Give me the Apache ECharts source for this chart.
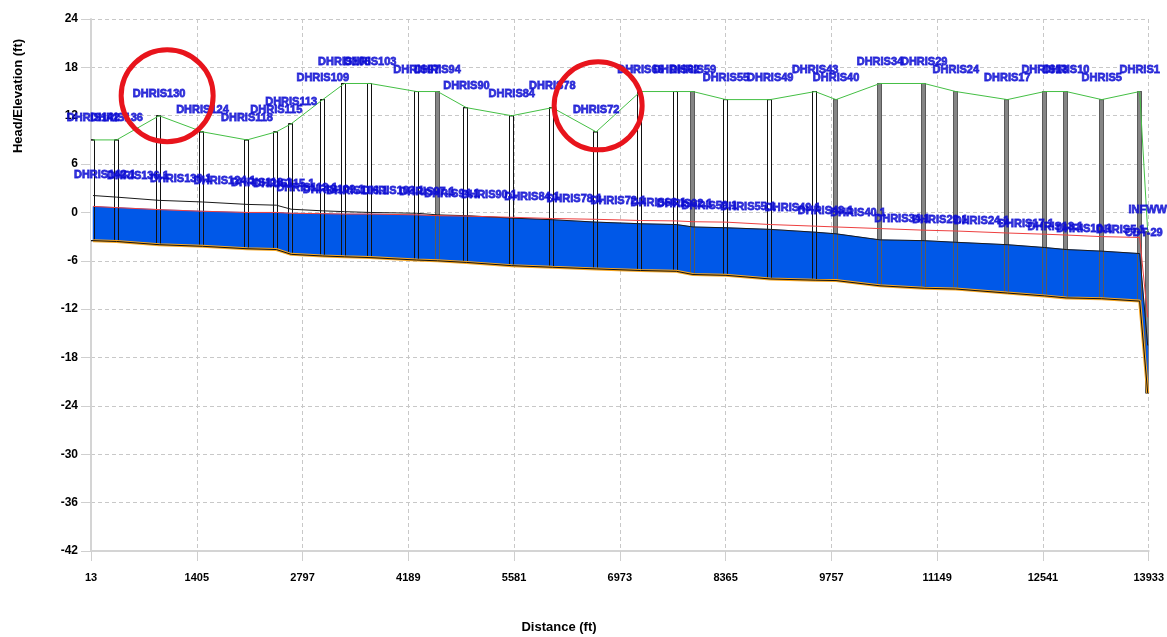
<!DOCTYPE html>
<html>
<head>
<meta charset="utf-8">
<title>Head/Elevation profile</title>
<script src="https://cdn.jsdelivr.net/npm/echarts@6/dist/echarts.min.js"></script>
<style>
html, body { margin: 0; padding: 0; background: #fff; }
#chart { width: 1167px; height: 637px; }
</style>
</head>
<body>
<div id="chart"></div>
<script>
// node (manhole) data, upstream to outfall
var nodeNames = ['DHRIS142', 'DHRIS136', 'DHRIS130', 'DHRIS124', 'DHRIS118', 'DHRIS115', 'DHRIS113', 'DHRIS109',
  'DHRIS106', 'DHRIS103', 'DHRIS97', 'DHRIS94', 'DHRIS90', 'DHRIS84', 'DHRIS78', 'DHRIS72', 'DHRIS66', 'DHRIS62',
  'DHRIS59', 'DHRIS55', 'DHRIS49', 'DHRIS43', 'DHRIS40', 'DHRIS34', 'DHRIS29', 'DHRIS24', 'DHRIS17', 'DHRIS13',
  'DHRIS10', 'DHRIS5', 'DHRIS1', 'INFWW'];
var nodeDist = [40, 350, 910, 1480, 2066, 2452, 2648, 3063, 3348, 3686, 4298, 4574, 4954, 5550, 6084, 6661,
  7244, 7717, 7935, 8369, 8952, 9543, 9818, 10396, 10978, 11394, 12072, 12563, 12847, 13315, 13814, 13920];
var groundElev = [9.0, 9.0, 12.0, 10.0, 9.0, 10.0, 11.0, 14.0, 16.0, 16.0, 15.0, 15.0, 13.0, 12.0, 13.0, 10.0,
  15.0, 15.0, 15.0, 14.0, 14.0, 15.0, 14.0, 16.0, 16.0, 15.0, 14.0, 15.0, 15.0, 14.0, 15.0, -2.4];
var invertElev = [-3.5, -3.6, -4.0, -4.2, -4.5, -4.6, -5.2, -5.4, -5.5, -5.6, -5.9, -6.0, -6.2, -6.6, -6.8, -7.0,
  -7.2, -7.3, -7.7, -7.8, -8.25, -8.4, -8.45, -9.1, -9.4, -9.5, -10.0, -10.35, -10.6, -10.7, -11.0, -22.4];
var crownElev = [2.1, 1.9, 1.5, 1.3, 1.0, 0.9, 0.4, 0.2, 0.1, 0.0, -0.1, -0.3, -0.4, -0.7, -0.9, -1.2,
  -1.4, -1.5, -1.8, -1.9, -2.1, -2.45, -2.65, -3.4, -3.5, -3.7, -4.0, -4.35, -4.6, -4.8, -5.1, -16.5];
var hglElev = [0.75, 0.6, 0.35, 0.15, 0.0, 0.0, -0.1, -0.15, -0.2, -0.2, -0.3, -0.4, -0.45, -0.6, -0.75, -0.85,
  -1.0, -1.05, -1.15, -1.2, -1.5, -1.7, -1.8, -2.0, -2.2, -2.3, -2.55, -2.7, -2.8, -3.0, -3.1, -13.0];
// links between consecutive nodes
var linkNames = ['DHRIS142.1', 'DHRIS136.1', 'DHRIS130.1', 'DHRIS124.1', 'DHRIS118.1', 'DHRIS115.1', 'DHRIS113.1',
  'DHRIS109.1', 'DHRIS106.1', 'DHRIS103.1', 'DHRIS97.1', 'DHRIS94.1', 'DHRIS90.1', 'DHRIS84.1', 'DHRIS78.1',
  'DHRIS72.1', 'DHRIS66.1', 'DHRIS62.1', 'DHRIS59.1', 'DHRIS55.1', 'DHRIS49.1', 'DHRIS43.1', 'DHRIS40.1',
  'DHRIS34.1', 'DHRIS29.1', 'DHRIS24.1', 'DHRIS17.1', 'DHRIS13.1', 'DHRIS10.1', 'DHRIS5.1', 'CDT-29'];
// manholes shown shaded
var shadedNodes = ['DHRIS94', 'DHRIS59', 'DHRIS40', 'DHRIS34', 'DHRIS29', 'DHRIS24', 'DHRIS17', 'DHRIS13',
  'DHRIS10', 'DHRIS5', 'DHRIS1', 'INFWW'];
var xTicks = [13, 1405, 2797, 4189, 5581, 6973, 8365, 9757, 11149, 12541, 13933];
var circledNodes = ['DHRIS130', 'DHRIS72'];

var FONT = 'Liberation Sans, Arial, sans-serif';
var LABEL_BLUE = '#0c0cd2';

var chart = echarts.init(document.getElementById('chart'));

function pairs(xs, ys) {
  var out = [];
  for (var i = 0; i < xs.length; i++) out.push([xs[i], ys[i]]);
  return out;
}

var pipeData = [];
var linkLabelData = [];
for (var i = 0; i < nodeDist.length - 1; i++) {
  var top1 = Math.min(hglElev[i], crownElev[i]);
  var top2 = Math.min(hglElev[i + 1], crownElev[i + 1]);
  pipeData.push([nodeDist[i], invertElev[i], top1, nodeDist[i + 1], invertElev[i + 1], top2]);
  linkLabelData.push({ name: linkNames[i], value: [(nodeDist[i] + nodeDist[i + 1]) / 2, crownElev[i]] });
}

var manholeData = [];
var nodeLabelData = [];
for (var j = 0; j < nodeDist.length; j++) {
  manholeData.push([nodeDist[j], groundElev[j], invertElev[j], shadedNodes.indexOf(nodeNames[j]) >= 0 ? 1 : 0]);
  nodeLabelData.push({ name: nodeNames[j], value: [nodeDist[j], groundElev[j]] });
}

function renderPipe(params, api) {
  var a = api.coord([api.value(0), api.value(1)]);
  var b = api.coord([api.value(3), api.value(4)]);
  var c = api.coord([api.value(3), api.value(5)]);
  var d = api.coord([api.value(0), api.value(2)]);
  return {
    type: 'polygon',
    shape: { points: [a, b, c, d] },
    style: { fill: '#0058e8', stroke: '#0058e8', lineWidth: 0.6 }
  };
}

function manholeRenderer(outlineOnly) {
  return function (params, api) {
    var t = api.coord([api.value(0), api.value(1)]);
    var b = api.coord([api.value(0), api.value(2)]);
    var shaded = api.value(3) === 1;
    var x = Math.round(t[0]) - 2.5;
    return {
      type: 'rect',
      shape: { x: x, y: t[1], width: 4, height: b[1] - t[1] },
      style: {
        fill: outlineOnly ? null : (shaded ? '#858585' : '#ffffff'),
        stroke: shaded ? '#5a5a5a' : '#111111',
        lineWidth: 1
      }
    };
  };
}

var labelStyle = {
  show: true,
  position: 'top',
  color: LABEL_BLUE,
  fontFamily: FONT,
  fontWeight: 'bold',
  fontSize: 11,
  textBorderColor: LABEL_BLUE,
  textBorderWidth: 0.8,
  formatter: '{b}'
};

var option = {
  animation: false,
  backgroundColor: '#ffffff',
  grid: { left: 91, right: 12, top: 19, bottom: 86 },
  xAxis: {
    type: 'value',
    min: 13,
    max: 13933,
    axisLine: { show: true, onZero: false, lineStyle: { color: '#d4d4d4', width: 2 } },
    axisTick: { show: true, length: 10, customValues: xTicks, lineStyle: { color: '#cfcfcf' } },
    axisLabel: {
      customValues: xTicks, margin: 21, color: '#000', fontFamily: FONT, fontWeight: 'bold', fontSize: 11,
      showMinLabel: true, showMaxLabel: true,
      formatter: function (v) { return String(v); }
    },
    splitLine: { show: true, lineStyle: { color: '#c8c8c8', type: [4, 3] } }
  },
  yAxis: {
    type: 'value',
    min: -42,
    max: 24,
    interval: 6,
    axisLine: { show: true, onZero: false, lineStyle: { color: '#d4d4d4', width: 2 } },
    axisTick: { show: true, length: 10, lineStyle: { color: '#cfcfcf' } },
    axisLabel: { margin: 13, color: '#000', fontFamily: FONT, fontWeight: 'bold', fontSize: 12 },
    splitLine: { show: true, lineStyle: { color: '#c8c8c8', type: [4, 3] } }
  },
  series: [
    {
      name: 'manholes', type: 'custom', z: 2, clip: true,
      renderItem: manholeRenderer(false),
      encode: { x: 0, y: [1, 2] },
      data: manholeData
    },
    {
      name: 'pipes', type: 'custom', z: 3, clip: true,
      renderItem: renderPipe,
      encode: { x: [0, 3], y: [1, 2, 4, 5] },
      data: pipeData
    },
    {
      name: 'manhole outline', type: 'custom', z: 4, clip: true,
      renderItem: manholeRenderer(true),
      encode: { x: 0, y: [1, 2] },
      data: manholeData
    },
    {
      name: 'invert', type: 'line', z: 5, symbol: 'none',
      lineStyle: { color: '#f5a623', width: 3 },
      data: pairs(nodeDist, invertElev)
    },
    {
      name: 'invert edge', type: 'line', z: 6, symbol: 'none',
      lineStyle: { color: '#111', width: 1 },
      data: pairs(nodeDist, invertElev)
    },
    {
      name: 'crown', type: 'line', z: 6, symbol: 'none',
      lineStyle: { color: '#1a1a1a', width: 1 },
      data: pairs(nodeDist, crownElev)
    },
    {
      name: 'HGL', type: 'line', z: 7, symbol: 'none',
      lineStyle: { color: '#ee4040', width: 1 },
      data: pairs(nodeDist, hglElev)
    },
    {
      name: 'ground', type: 'line', z: 7, symbol: 'none',
      lineStyle: { color: '#44bf44', width: 1 },
      data: pairs(nodeDist, groundElev)
    },
    {
      name: 'node labels', type: 'scatter', z: 10, symbolSize: 1,
      itemStyle: { color: 'rgba(0,0,0,0)' },
      label: Object.assign({}, labelStyle, { distance: 16 }),
      data: nodeLabelData
    },
    {
      name: 'link labels', type: 'scatter', z: 10, symbolSize: 1,
      itemStyle: { color: 'rgba(0,0,0,0)' },
      label: Object.assign({}, labelStyle, { distance: 15 }),
      data: linkLabelData
    }
  ],
  graphic: [
    {
      type: 'text', x: 18, y: 96, rotation: Math.PI / 2,
      style: {
        text: 'Head/Elevation (ft)', fill: '#000', font: 'bold 13px ' + FONT,
        align: 'center', verticalAlign: 'middle'
      }
    },
    {
      type: 'text', x: 559, y: 627,
      style: {
        text: 'Distance (ft)', fill: '#000', font: 'bold 13px ' + FONT,
        align: 'center', verticalAlign: 'middle'
      }
    }
  ]
};

chart.setOption(option);

// red annotation circles around selected nodes
var rings = [];
var ringShift = [[8, -20, 46], [2, -26, 44]];
circledNodes.forEach(function (name, k) {
  var idx = nodeNames.indexOf(name);
  var p = chart.convertToPixel({ gridIndex: 0 }, [nodeDist[idx], groundElev[idx]]);
  rings.push({
    type: 'circle', z: 100,
    shape: { cx: p[0] + ringShift[k][0], cy: p[1] + ringShift[k][1], r: ringShift[k][2] },
    style: { fill: null, stroke: '#e8141c', lineWidth: 5 }
  });
});
chart.setOption({ graphic: option.graphic.concat(rings) });
</script>
</body>
</html>
